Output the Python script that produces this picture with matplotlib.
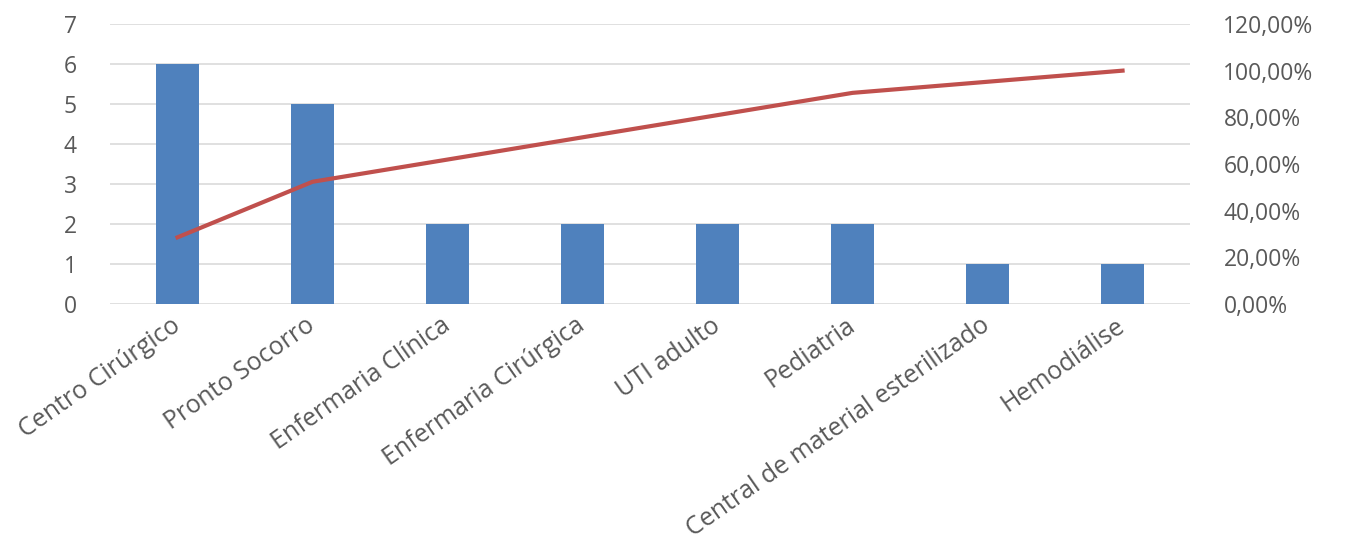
import numpy as np
import matplotlib
matplotlib.use("Agg")
import matplotlib.pyplot as plt
from matplotlib.ticker import FuncFormatter

# dados do gráfico de Pareto
setores = ['Centro Cirúrgico', 'Pronto Socorro', 'Enfermaria Clínica',
           'Enfermaria Cirúrgica', 'UTI adulto', 'Pediatria',
           'Central de material esterilizado', 'Hemodiálise']
ocorrencias = [6, 5, 2, 2, 2, 2, 1, 1]
acumulado = [0.2857, 0.5238, 0.6190, 0.7143, 0.8095, 0.9048, 0.9524, 1.0]

plt.rcParams['font.family'] = ['Open Sans', 'DejaVu Sans']
cinza = '#595959'

fig = plt.figure(figsize=(13.45, 5.5), dpi=100)
ax = fig.add_axes([0.0818, 0.4473, 0.8030, 0.5091])
x = np.arange(len(setores))

ax.bar(x, ocorrencias, width=0.32, color='#4F81BD', zorder=3)
ax.set_xlim(-0.5, len(setores) - 0.5)
ax.set_ylim(0, 7)
ax.set_yticks(range(0, 8))
ax.grid(axis='y', color='#DDDDDD', linewidth=1.3, zorder=0)
for s in ax.spines.values():
    s.set_visible(False)
ax.tick_params(axis='y', length=0, pad=24, labelsize=16.5, labelcolor=cinza)
ax.tick_params(axis='x', length=0, pad=14, labelsize=18, labelcolor=cinza)
ax.set_xticks(x)
ax.set_xticklabels(setores, rotation=35, ha='right', va='center',
                   rotation_mode='anchor')

ax2 = ax.twinx()
ax2.plot(x, acumulado, color='#C0504D', linewidth=3, zorder=4)
ax2.set_ylim(0, 1.2)
ax2.set_yticks(np.arange(0, 1.21, 0.2))
ax2.yaxis.set_major_formatter(FuncFormatter(lambda v, p: f'{v*100:.2f}%'.replace('.', ',')))
for s in ax2.spines.values():
    s.set_visible(False)
ax2.tick_params(axis='y', length=0, pad=24, labelsize=16.5, labelcolor=cinza)

fig.savefig('out.png', dpi=100)
